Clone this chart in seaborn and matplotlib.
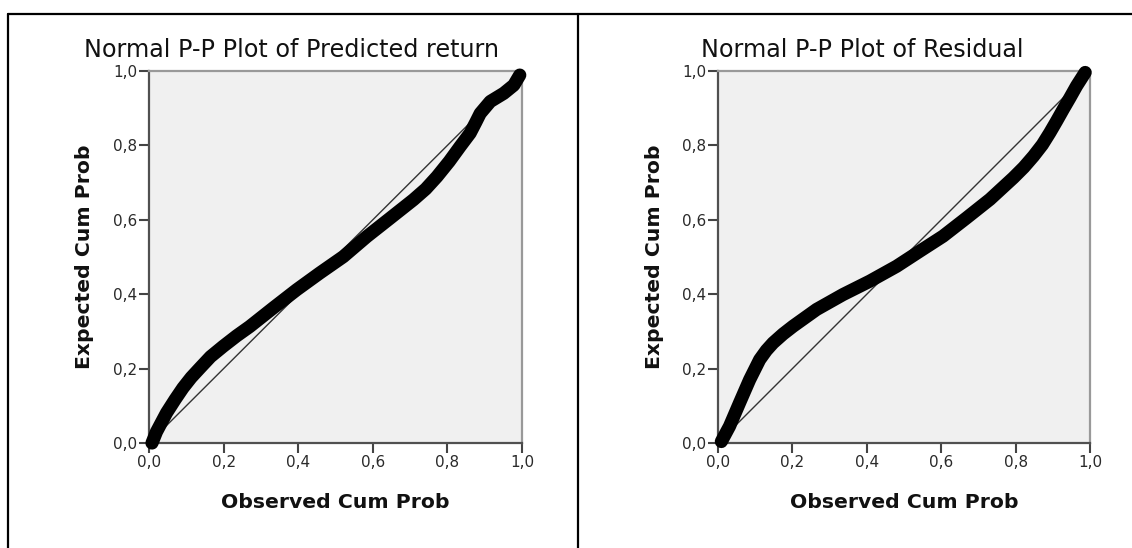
import matplotlib
matplotlib.use("Agg")
import matplotlib.pyplot as plt
from matplotlib.lines import Line2D
import seaborn as sns
import pandas as pd

# ---- data ----
titles = ["Normal P-P Plot of Predicted return", "Normal P-P Plot of Residual"]
xlabel_text = "Observed Cum Prob"
ylabel_text = "Expected Cum Prob"
tick_values = [0.0, 0.2, 0.4, 0.6, 0.8, 1.0]
tick_labels = ["0,0", "0,2", "0,4", "0,6", "0,8", "1,0"]
diag = [0.0, 1.0]

pred_obs = [0.008, 0.02, 0.047, 0.07, 0.091, 0.113, 0.136, 0.165, 0.199, 0.235,
            0.27, 0.333, 0.396, 0.458, 0.521, 0.584, 0.646, 0.709, 0.742, 0.772,
            0.805, 0.834, 0.861, 0.876, 0.888, 0.915, 0.951, 0.978, 0.994]
pred_exp = [0.0, 0.03, 0.081, 0.117, 0.148, 0.176, 0.201, 0.232, 0.26, 0.288,
            0.313, 0.363, 0.412, 0.457, 0.501, 0.555, 0.604, 0.654, 0.683, 0.716,
            0.757, 0.797, 0.833, 0.862, 0.886, 0.918, 0.94, 0.962, 0.989]

res_obs = [0.009, 0.031, 0.058, 0.085, 0.112, 0.13, 0.148, 0.175, 0.202, 0.265,
           0.336, 0.408, 0.48, 0.543, 0.605, 0.668, 0.731, 0.794, 0.822, 0.848,
           0.872, 0.892, 0.91, 0.928, 0.946, 0.964, 0.987]
res_exp = [0.004, 0.045, 0.108, 0.17, 0.224, 0.249, 0.269, 0.293, 0.314, 0.359,
           0.399, 0.435, 0.475, 0.516, 0.556, 0.605, 0.655, 0.713, 0.741, 0.771,
           0.802, 0.834, 0.865, 0.897, 0.928, 0.96, 0.996]

sns.set_theme(style="ticks")
plt.rcParams["font.family"] = ["DejaVu Sans"]

W, H = 1132, 548
fig = plt.figure(figsize=(W / 100, H / 100), dpi=100)
fig.patch.set_facecolor("white")

axes_px = [(149, 522), (718, 1090)]
top_px, bot_px = 71, 443
title_cx = [292, 862]
datasets = [(pred_obs, pred_exp), (res_obs, res_exp)]

for i in range(2):
    x0, x1 = axes_px[i]
    ax = fig.add_axes([x0 / W, 1 - bot_px / H, (x1 - x0) / W, (bot_px - top_px) / H])
    ax.set_facecolor("#f0f0f0")
    obs, exp = datasets[i]
    df = pd.DataFrame({"obs": obs, "exp": exp})
    ax.plot(diag, diag, color="#333333", lw=1.0, zorder=2)
    sns.lineplot(data=df, x="obs", y="exp", ax=ax, color="black", linewidth=9.5,
                 estimator=None, sort=False, solid_capstyle="round",
                 solid_joinstyle="round", clip_on=False, zorder=5)
    ax.set_xlim(0, 1)
    ax.set_ylim(0, 1)
    ax.set_xticks(tick_values)
    ax.set_xticklabels(tick_labels)
    ax.set_yticks(tick_values)
    ax.set_yticklabels(tick_labels)
    ax.tick_params(axis="both", direction="out", length=7, width=1.5,
                   color="#444444", labelsize=11, labelcolor="#2a2a2a", pad=1.5)
    for s in ["left", "bottom"]:
        ax.spines[s].set_color("#505050")
        ax.spines[s].set_linewidth(1.6)
    for s in ["top", "right"]:
        ax.spines[s].set_color("#999999")
        ax.spines[s].set_linewidth(1.6)
    ax.set_xlabel(xlabel_text, fontsize=14.7, fontweight="bold", color="#111111",
                  va="center")
    ax.set_ylabel(ylabel_text, fontsize=14.7, fontweight="bold", color="#111111",
                  va="center")
    ax.xaxis.set_label_coords(0.5, -0.161)
    ax.yaxis.set_label_coords(-0.172, 0.5)
    fig.text(title_cx[i] / W, 1 - 57 / H, titles[i], ha="center", va="baseline",
             fontsize=17.2, color="#111111")

# panel borders
lc = "black"
fig.add_artist(Line2D([7.5 / W, 7.5 / W], [0, 1 - 13.5 / H], transform=fig.transFigure,
                      color=lc, lw=1.6))
fig.add_artist(Line2D([7.5 / W, 1], [1 - 13.5 / H, 1 - 13.5 / H], transform=fig.transFigure,
                      color=lc, lw=1.6))
fig.add_artist(Line2D([578 / W, 578 / W], [0, 1 - 13.5 / H], transform=fig.transFigure,
                      color=lc, lw=1.6))

fig.savefig("out.png", dpi=100)
